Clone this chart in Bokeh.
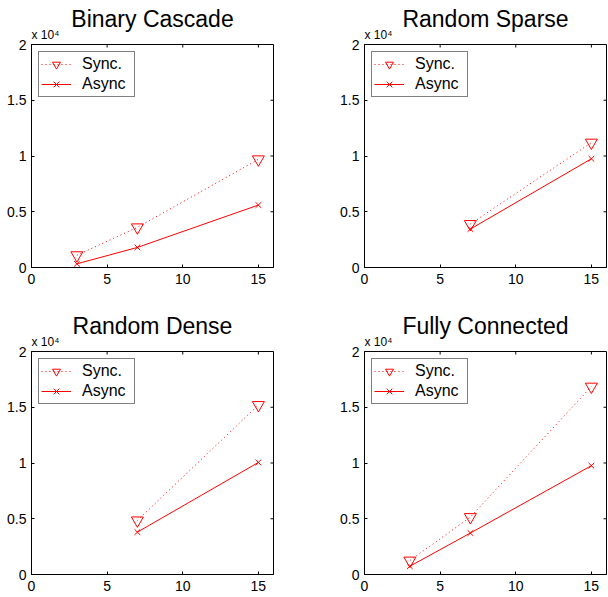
from math import pi
from bokeh.plotting import figure
from bokeh.layouts import gridplot
from bokeh.models import (FixedTicker, Legend, LegendItem, Range1d, Title)
from bokeh.embed import file_html
from bokeh.resources import INLINE

titles = ["Binary Cascade", "Random Sparse", "Random Dense", "Fully Connected"]
x_bc = [3, 7, 15]
x_rs = [7, 15]
x_rd = [7, 15]
x_fc = [3, 7, 15]
sync_bc = [1100, 3600, 9700]
async_bc = [330, 1800, 5600]
sync_rs = [3900, 11200]
async_rs = [3450, 9750]
sync_rd = [4850, 15200]
async_rd = [3800, 10050]
sync_fc = [1250, 5150, 16850]
async_fc = [740, 3720, 9760]
x_max = 16
y_max = 20000
x_ticks = [0, 5, 10, 15]
y_ticks = [0, 5000, 10000, 15000, 20000]
y_tick_labels = ["0", "0.5", "1", "1.5", "2"]
y_scale_label = "x 10\u2074"
series_names = ["Sync.", "Async"]

FONT = "Liberation Sans"
RED = "#ff0000"


def make(title, xs, ys_sync, ys_async, left, right, top, bottom):
    p = figure(frame_width=242, frame_height=223, output_backend="svg",
               toolbar_location=None, title=None,
               x_range=Range1d(0, x_max), y_range=Range1d(0, y_max),
               min_border_left=left, min_border_right=right,
               min_border_top=top, min_border_bottom=bottom,
               background_fill_color="white", border_fill_color="white")
    p.outline_line_color = "black"
    p.outline_line_width = 1
    p.grid.visible = False

    # scale factor label (closest to frame), then main title
    p.add_layout(Title(text=y_scale_label, align="left", text_font=FONT,
                       text_font_size="12px", text_font_style="normal",
                       text_color="black", standoff=5, offset=0), "above")
    p.add_layout(Title(text=title, align="center", text_font=FONT,
                       text_font_size="23px", text_font_style="normal",
                       text_color="black", standoff=-16, offset=0), "above")

    for ax in p.xaxis + p.yaxis:
        ax.major_label_text_font = FONT
        ax.major_label_text_font_size = "14px"
        ax.major_label_text_color = "black"
        ax.axis_line_color = "black"
        ax.major_tick_in = 3
        ax.major_tick_out = 0
        ax.minor_tick_line_color = None
        ax.major_tick_line_color = "black"
    p.xaxis.ticker = FixedTicker(ticks=x_ticks)
    p.yaxis.ticker = FixedTicker(ticks=y_ticks)
    p.yaxis.major_label_overrides = {t: l for t, l in zip(y_ticks, y_tick_labels)}
    p.xaxis.major_label_standoff = 6
    p.yaxis.major_label_standoff = 5

    # mirror ticks on the right and top edges (box on)
    p.ray(x=[x_max] * len(y_ticks), y=y_ticks, length=3, length_units="screen",
          angle=pi, line_color="black", line_width=1)
    p.ray(x=x_ticks, y=[y_max] * len(x_ticks), length=3, length_units="screen",
          angle=-pi / 2, line_color="black", line_width=1)

    l1 = p.line(xs, ys_sync, line_color=RED, line_width=1, line_dash="1 3")
    s1 = p.scatter(xs, ys_sync, marker="inverted_triangle", size=12,
                   line_color=RED, fill_color=None, line_width=1)
    l2 = p.line(xs, ys_async, line_color=RED, line_width=1)
    s2 = p.scatter(xs, ys_async, marker="x", size=8, line_color=RED, line_width=1)

    legend = Legend(items=[LegendItem(label=series_names[0], renderers=[l1, s1]),
                           LegendItem(label=series_names[1], renderers=[l2, s2])],
                    location="top_left", margin=7, padding=2, spacing=0,
                    glyph_width=30, glyph_height=20, label_height=20,
                    label_width=50, label_standoff=11, label_text_font=FONT,
                    label_text_font_size="16px", label_text_color="black",
                    border_line_color="black", border_line_width=1,
                    background_fill_color="white", background_fill_alpha=1.0)
    p.add_layout(legend, "center")
    return p


p1 = make(titles[0], x_bc, sync_bc, async_bc, 31, 50, 44, 40)
p2 = make(titles[1], x_rs, sync_rs, async_rs, 41, 1, 44, 40)
p3 = make(titles[2], x_rd, sync_rd, async_rd, 31, 50, 44, 22)
p4 = make(titles[3], x_fc, sync_fc, async_fc, 41, 1, 44, 22)

grid = gridplot([[p1, p2], [p3, p4]], toolbar_location=None)

with open("out.html", "w") as f:
    f.write(file_html(grid, INLINE))
